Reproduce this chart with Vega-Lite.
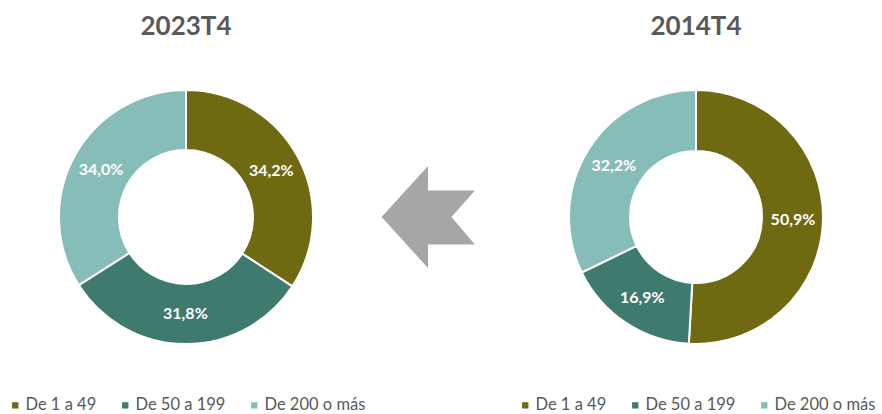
{
  "$schema": "https://vega.github.io/schema/vega-lite/v6.json",
  "padding": {"top": 14, "left": 0, "right": 0, "bottom": 0},
  "spacing": 0,
  "bounds": "flush",
  "config": {
    "view": {"stroke": null},
    "font": "Lato",
    "title": {"font": "Lato", "fontSize": 26, "fontWeight": "bold", "color": "#595959", "anchor": "middle", "offset": 6},
    "legend": {
      "orient": "none",
      "direction": "horizontal",
      "title": null,
      "symbolType": "square",
      "symbolSize": 40,
      "symbolStrokeWidth": 0,
      "labelFont": "Lato",
      "labelFontSize": 16.5,
      "labelColor": "#595959",
      "labelOffset": 2,
      "columnPadding": 20
    }
  },
  "datasets": {
    "d2023": [
      {"cat": "De 1 a 49", "value": 34.2, "label": "34,2%", "ord": 1},
      {"cat": "De 50 a 199", "value": 31.8, "label": "31,8%", "ord": 2},
      {"cat": "De 200 o más", "value": 34.0, "label": "34,0%", "ord": 3}
    ],
    "d2014": [
      {"cat": "De 1 a 49", "value": 50.9, "label": "50,9%", "ord": 1},
      {"cat": "De 50 a 199", "value": 16.9, "label": "16,9%", "ord": 2},
      {"cat": "De 200 o más", "value": 32.2, "label": "32,2%", "ord": 3}
    ],
    "arrow": [{"shape": "arrow"}]
  },
  "hconcat": [
    {
      "title": "2023T4",
      "width": 372,
      "height": 342,
      "data": {"name": "d2023"},
      "encoding": {
        "theta": {"field": "value", "type": "quantitative", "stack": true},
        "order": {"field": "ord", "type": "quantitative"}
      },
      "layer": [
        {
          "mark": {"type": "arc", "outerRadius": 127, "innerRadius": 67, "stroke": "white", "strokeWidth": 2},
          "encoding": {
            "color": {
              "field": "cat", "type": "nominal",
              "scale": {"domain": ["De 1 a 49", "De 50 a 199", "De 200 o más"], "range": ["#6F6A12", "#3F7A6E", "#87BDB8"]},
              "legend": {"legendX": 7, "legendY": 351}
            }
          }
        },
        {
          "mark": {"type": "text", "radius": 97, "fontSize": 16, "fontWeight": "bold", "font": "Lato"},
          "encoding": {
            "text": {"field": "label"},
            "detail": {"field": "cat"},
            "color": {"value": "white"}
          }
        }
      ]
    },
    {
      "width": 138,
      "height": 342,
      "data": {"name": "arrow"},
      "mark": {
        "type": "point",
        "shape": "M -0.91 0 L 0 -1 L 0 -0.52 L 0.92 -0.52 L 0.46 0 L 0.92 0.54 L 0 0.54 L 0 1 Z",
        "size": 10404,
        "filled": true,
        "fill": "#A6A6A6",
        "opacity": 1,
        "strokeWidth": 0,
        "xOffset": -13
      },
      "encoding": {}
    },
    {
      "title": "2014T4",
      "width": 372,
      "height": 342,
      "data": {"name": "d2014"},
      "encoding": {
        "theta": {"field": "value", "type": "quantitative", "stack": true},
        "order": {"field": "ord", "type": "quantitative"}
      },
      "layer": [
        {
          "mark": {"type": "arc", "outerRadius": 127, "innerRadius": 66, "stroke": "white", "strokeWidth": 2},
          "encoding": {
            "color": {
              "field": "cat", "type": "nominal",
              "scale": {"domain": ["De 1 a 49", "De 50 a 199", "De 200 o más"], "range": ["#6F6A12", "#3F7A6E", "#87BDB8"]},
              "legend": {"legendX": 7, "legendY": 351}
            }
          }
        },
        {
          "mark": {"type": "text", "radius": 97, "fontSize": 16, "fontWeight": "bold", "font": "Lato"},
          "encoding": {
            "text": {"field": "label"},
            "detail": {"field": "cat"},
            "color": {"value": "white"}
          }
        }
      ]
    }
  ],
  "resolve": {"scale": {"color": "independent", "theta": "independent"}, "legend": {"color": "independent"}}
}
